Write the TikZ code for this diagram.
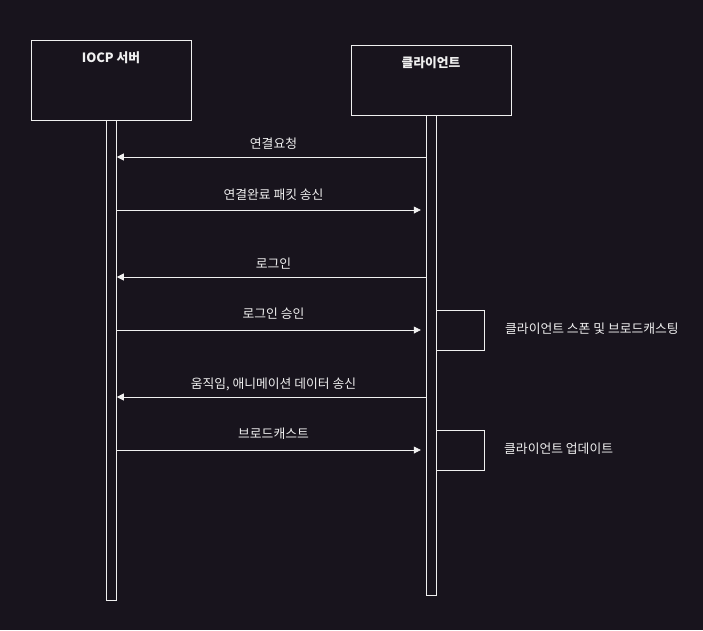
\documentclass[tikz,border=0pt]{standalone}
\usepackage{fontspec}
\setmainfont{Noto Sans CJK KR}
\usetikzlibrary{arrows.meta}
\definecolor{bg}{HTML}{18141D}
\definecolor{ln}{HTML}{F0F0F0}
\begin{document}
\begin{tikzpicture}[x=1pt,y=-1pt,
  box/.style={draw=ln,line width=1pt,minimum width=160pt,inner sep=0pt},
  bar/.style={draw=ln,line width=1pt,minimum width=10pt,inner sep=0pt},
  title/.style={text=ln,font=\fontsize{12.8}{14}\selectfont\bfseries,inner sep=0pt},
  lbl/.style={text=ln,font=\fontsize{12.8}{14}\selectfont,inner sep=0pt},
  msg/.style={draw=ln,line width=0.8pt,-{Triangle[width=7pt,length=7pt]}},
  selfbox/.style={draw=ln,line width=1pt}]
\fill[bg] (0,0) rectangle (703,630);
\useasboundingbox (0,0) rectangle (703,630);
% participants
\node[box,minimum height=80pt] (srv) at (111,80) {};
\node[title] (srvt) at ([yshift=-18pt]srv.north) {IOCP 서버};
\node[box,minimum height=70pt] (cli) at (431,80) {};
\node[title] (clit) at ([yshift=-18pt]cli.north) {클라이언트};
% lifelines
\node[bar,minimum height=480pt] (sbar) at (111.3,360) {};
\node[bar,minimum height=480pt] (cbar) at (431.3,355) {};
% messages
\draw[msg] (cbar.west |- 0,157) -- (sbar.east |- 0,157);
\node[lbl] (m1) at (273.5,144) {연결요청};
\draw[msg] (sbar.east |- 0,210) -- ([xshift=-5pt]cbar.west |- 0,210);
\node[lbl] (m2) at (273.5,194.5) {연결완료 패킷 송신};
\draw[msg] (cbar.west |- 0,277) -- (sbar.east |- 0,277);
\node[lbl] (m3) at (273.5,264) {로그인};
\draw[msg] (sbar.east |- 0,330) -- ([xshift=-5pt]cbar.west |- 0,330);
\node[lbl] (m4) at (273.5,314) {로그인 승인};
\draw[msg] (cbar.west |- 0,397) -- (sbar.east |- 0,397);
\node[lbl] (m5) at (273.5,384) {움직임, 애니메이션 데이터 송신};
\draw[msg] (sbar.east |- 0,450) -- ([xshift=-5pt]cbar.west |- 0,450);
\node[lbl] (m6) at (273.5,434) {브로드캐스트};
% self activities
\draw[selfbox] (cbar.east |- 0,310) rectangle (484,350);
\node[lbl,anchor=west] (s1) at (505,329) {클라이언트 스폰 및 브로드캐스팅};
\draw[selfbox] (cbar.east |- 0,430) rectangle (484,470);
\node[lbl,anchor=west] (s2) at (504,449) {클라이언트 업데이트};
\end{tikzpicture}
\end{document}
